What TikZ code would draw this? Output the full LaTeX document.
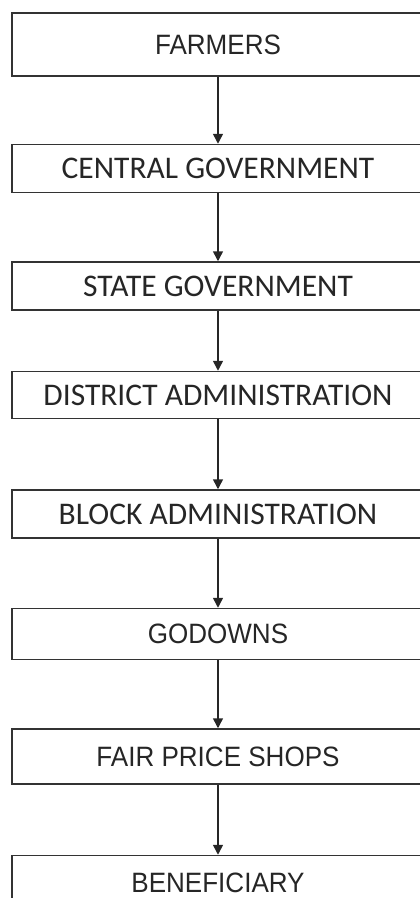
\documentclass[tikz,border=0pt]{standalone}
\usepackage{fontspec}
\setmainfont{Carlito}
\newfontfamily\arialfont[FakeStretch=0.93]{Liberation Sans}
\usepackage{tikz}
\usetikzlibrary{positioning,arrows.meta}

\begin{document}
\begin{tikzpicture}[
        block/.style={rectangle, draw=black!80, line width=1.5pt, minimum width=412pt, inner sep=0pt, text=black!85, font=\fontsize{31.5}{34}\selectfont},
        ablock/.style={block, font=\arialfont\fontsize{28}{31}\selectfont},
        arrow/.style={-{Triangle[length=10pt,width=10pt]}, line width=1.5pt, draw=black!85}
    ]
    % Frame of the page
    \useasboundingbox (0,0) rectangle (420pt,-898pt);
    \clip (0,0) rectangle (420pt,-898pt);

    % Chain of boxes
    \node[ablock, minimum height=63pt] (farmers) at (218pt,-44.5pt) {FARMERS};
    \node[block, minimum height=48pt, below=67pt of farmers] (central) {CENTRAL GOVERNMENT};
    \node[block, minimum height=48pt, below=68pt of central] (state) {STATE GOVERNMENT};
    \node[block, minimum height=47pt, below=60pt of state] (district) {DISTRICT ADMINISTRATION};
    \node[block, minimum height=48pt, below=70pt of district] (blockadmin) {BLOCK ADMINISTRATION};
    \node[ablock, minimum height=51pt, below=69pt of blockadmin] (godowns) {GODOWNS};
    \node[ablock, minimum height=55pt, below=68pt of godowns] (shops) {FAIR PRICE SHOPS};
    \node[ablock, minimum height=55pt, below=70pt of shops] (beneficiary) {BENEFICIARY};

    % Connect everything
    \draw[arrow] (farmers) -- (central);
    \draw[arrow] (central) -- (state);
    \draw[arrow] (state) -- (district);
    \draw[arrow] (district) -- (blockadmin);
    \draw[arrow] (blockadmin) -- (godowns);
    \draw[arrow] (godowns) -- (shops);
    \draw[arrow] (shops) -- (beneficiary);
\end{tikzpicture}
\end{document}
